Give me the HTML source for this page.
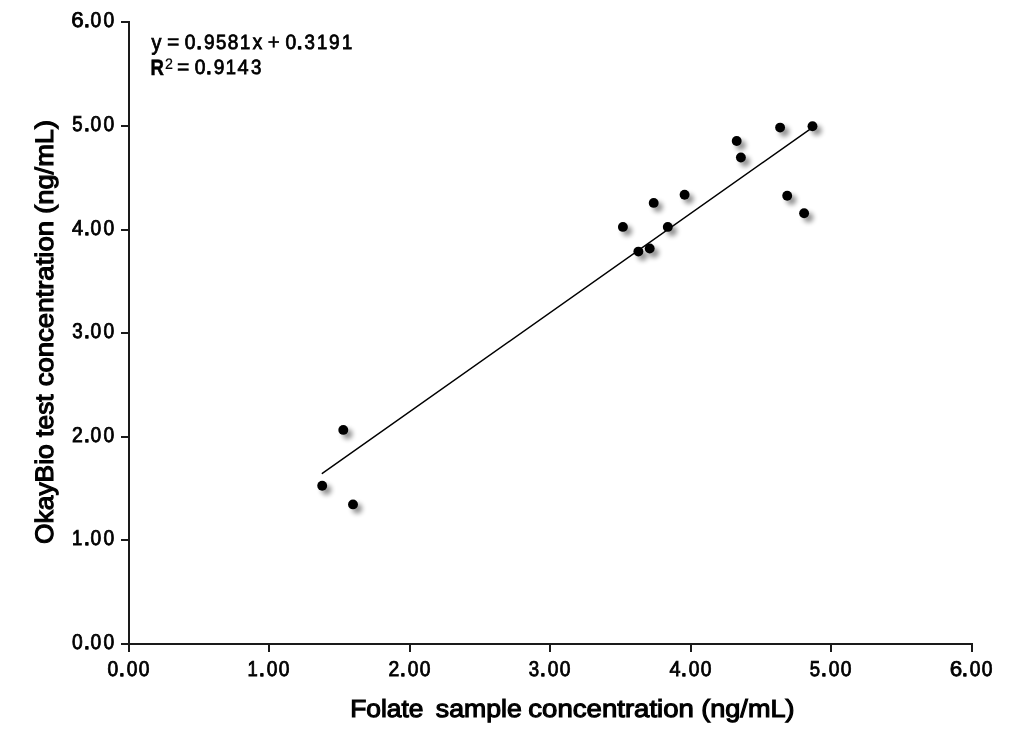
<!DOCTYPE html>
<html><head><meta charset="utf-8"><title>chart</title>
<style>
html,body{margin:0;padding:0;background:#fff;}
body{width:1033px;height:735px;overflow:hidden;font-family:"Liberation Sans",sans-serif;}
svg{display:block;will-change:transform;}
text{font-family:"Liberation Sans",sans-serif;fill:#000;text-rendering:geometricPrecision;}
.n{font-size:21.4px;stroke:#000;stroke-width:0.85px;}
.ti{font-size:24.8px;stroke:#000;stroke-width:1.1px;stroke-linejoin:miter;}
</style></head><body>
<svg width="1033" height="735" viewBox="0 0 1033 735">
<defs><filter id="sh" x="-100%" y="-100%" width="300%" height="300%"><feGaussianBlur stdDeviation="2.45"/></filter></defs>
<rect width="1033" height="735" fill="#fff"/>

<g stroke="#1a1a1a" stroke-width="2" fill="none">
<path d="M129.0 21.0V652.0"/>
<path d="M121.0 644.0H973.0"/>
<path d="M121.0 540H129.0"/>
<path d="M269 644.0V652.0"/>
<path d="M121.0 437H129.0"/>
<path d="M410 644.0V652.0"/>
<path d="M121.0 333H129.0"/>
<path d="M550 644.0V652.0"/>
<path d="M121.0 230H129.0"/>
<path d="M691 644.0V652.0"/>
<path d="M121.0 126H129.0"/>
<path d="M831 644.0V652.0"/>
<path d="M121.0 22H129.0"/>
<path d="M972 644.0V652.0"/>
</g>
<text class="n" transform="translate(72.10 649.00) scale(0.900 1.000)">0</text>
<text class="n" transform="translate(83.78 649.00) scale(1.057 1.000)" style="font-size:21.4px;stroke:#000;stroke-width:1.3px;stroke-linejoin:round;">.</text>
<text class="n" transform="translate(90.50 649.00) scale(0.900 1.000)">0</text>
<text class="n" transform="translate(103.60 649.00) scale(0.900 1.000)">0</text>
<text class="n" transform="translate(107.60 676.00) scale(0.900 1.000)">0</text>
<text class="n" transform="translate(118.73 676.00) scale(1.057 1.000)" style="font-size:21.4px;stroke:#000;stroke-width:1.3px;stroke-linejoin:round;">.</text>
<text class="n" transform="translate(126.65 676.00) scale(0.900 1.000)">0</text>
<text class="n" transform="translate(138.65 676.00) scale(0.900 1.000)">0</text>
<text class="n" transform="translate(72.12 545.00) scale(0.860 1.000)">1</text>
<text class="n" transform="translate(83.78 545.00) scale(1.057 1.000)" style="font-size:21.4px;stroke:#000;stroke-width:1.3px;stroke-linejoin:round;">.</text>
<text class="n" transform="translate(90.50 545.00) scale(0.900 1.000)">0</text>
<text class="n" transform="translate(103.60 545.00) scale(0.900 1.000)">0</text>
<text class="n" transform="translate(247.62 676.00) scale(0.860 1.000)">1</text>
<text class="n" transform="translate(258.73 676.00) scale(1.057 1.000)" style="font-size:21.4px;stroke:#000;stroke-width:1.3px;stroke-linejoin:round;">.</text>
<text class="n" transform="translate(266.65 676.00) scale(0.900 1.000)">0</text>
<text class="n" transform="translate(278.65 676.00) scale(0.900 1.000)">0</text>
<text class="n" transform="translate(72.07 442.00) scale(0.905 1.000)">2</text>
<text class="n" transform="translate(83.78 442.00) scale(1.057 1.000)" style="font-size:21.4px;stroke:#000;stroke-width:1.3px;stroke-linejoin:round;">.</text>
<text class="n" transform="translate(90.50 442.00) scale(0.900 1.000)">0</text>
<text class="n" transform="translate(103.60 442.00) scale(0.900 1.000)">0</text>
<text class="n" transform="translate(388.57 676.00) scale(0.905 1.000)">2</text>
<text class="n" transform="translate(399.73 676.00) scale(1.057 1.000)" style="font-size:21.4px;stroke:#000;stroke-width:1.3px;stroke-linejoin:round;">.</text>
<text class="n" transform="translate(407.65 676.00) scale(0.900 1.000)">0</text>
<text class="n" transform="translate(419.65 676.00) scale(0.900 1.000)">0</text>
<text class="n" transform="translate(72.26 338.00) scale(0.873 1.000)">3</text>
<text class="n" transform="translate(83.78 338.00) scale(1.057 1.000)" style="font-size:21.4px;stroke:#000;stroke-width:1.3px;stroke-linejoin:round;">.</text>
<text class="n" transform="translate(90.50 338.00) scale(0.900 1.000)">0</text>
<text class="n" transform="translate(103.60 338.00) scale(0.900 1.000)">0</text>
<text class="n" transform="translate(528.76 676.00) scale(0.873 1.000)">3</text>
<text class="n" transform="translate(539.73 676.00) scale(1.057 1.000)" style="font-size:21.4px;stroke:#000;stroke-width:1.3px;stroke-linejoin:round;">.</text>
<text class="n" transform="translate(547.65 676.00) scale(0.900 1.000)">0</text>
<text class="n" transform="translate(559.65 676.00) scale(0.900 1.000)">0</text>
<text class="n" transform="translate(72.05 235.00) scale(0.928 1.000)">4</text>
<text class="n" transform="translate(83.78 235.00) scale(1.057 1.000)" style="font-size:21.4px;stroke:#000;stroke-width:1.3px;stroke-linejoin:round;">.</text>
<text class="n" transform="translate(90.50 235.00) scale(0.900 1.000)">0</text>
<text class="n" transform="translate(103.60 235.00) scale(0.900 1.000)">0</text>
<text class="n" transform="translate(669.55 676.00) scale(0.928 1.000)">4</text>
<text class="n" transform="translate(680.73 676.00) scale(1.057 1.000)" style="font-size:21.4px;stroke:#000;stroke-width:1.3px;stroke-linejoin:round;">.</text>
<text class="n" transform="translate(688.65 676.00) scale(0.900 1.000)">0</text>
<text class="n" transform="translate(700.65 676.00) scale(0.900 1.000)">0</text>
<text class="n" transform="translate(72.29 131.00) scale(0.868 1.000)">5</text>
<text class="n" transform="translate(83.78 131.00) scale(1.057 1.000)" style="font-size:21.4px;stroke:#000;stroke-width:1.3px;stroke-linejoin:round;">.</text>
<text class="n" transform="translate(90.50 131.00) scale(0.900 1.000)">0</text>
<text class="n" transform="translate(103.60 131.00) scale(0.900 1.000)">0</text>
<text class="n" transform="translate(809.79 676.00) scale(0.868 1.000)">5</text>
<text class="n" transform="translate(820.73 676.00) scale(1.057 1.000)" style="font-size:21.4px;stroke:#000;stroke-width:1.3px;stroke-linejoin:round;">.</text>
<text class="n" transform="translate(828.65 676.00) scale(0.900 1.000)">0</text>
<text class="n" transform="translate(840.65 676.00) scale(0.900 1.000)">0</text>
<text class="n" transform="translate(71.21 27.00) scale(1.048 1.000)">6</text>
<text class="n" transform="translate(83.78 27.00) scale(1.057 1.000)" style="font-size:21.4px;stroke:#000;stroke-width:1.3px;stroke-linejoin:round;">.</text>
<text class="n" transform="translate(90.50 27.00) scale(0.900 1.000)">0</text>
<text class="n" transform="translate(103.60 27.00) scale(0.900 1.000)">0</text>
<text class="n" transform="translate(949.71 676.00) scale(1.048 1.000)">6</text>
<text class="n" transform="translate(961.73 676.00) scale(1.057 1.000)" style="font-size:21.4px;stroke:#000;stroke-width:1.3px;stroke-linejoin:round;">.</text>
<text class="n" transform="translate(969.65 676.00) scale(0.900 1.000)">0</text>
<text class="n" transform="translate(981.65 676.00) scale(0.900 1.000)">0</text>
<path d="M322.3 473.4L812.3 127.6" stroke="#000" stroke-width="1.45" stroke-linecap="round" fill="none"/>
<g filter="url(#sh)" fill="#000" opacity="0.44">
<circle cx="627.1" cy="231.1" r="5"/>
<circle cx="657.9" cy="207.1" r="5"/>
<circle cx="688.8" cy="199.0" r="5"/>
<circle cx="672.0" cy="231.1" r="5"/>
<circle cx="653.9" cy="252.7" r="5"/>
<circle cx="642.6" cy="255.8" r="5"/>
<circle cx="740.9" cy="145.2" r="5"/>
<circle cx="745.1" cy="161.7" r="5"/>
<circle cx="784.3" cy="131.8" r="5"/>
<circle cx="816.7" cy="130.5" r="5"/>
<circle cx="791.4" cy="200.0" r="5"/>
<circle cx="808.4" cy="217.5" r="5"/>
<circle cx="347.5" cy="434.1" r="5"/>
<circle cx="326.4" cy="489.9" r="5"/>
<circle cx="357.2" cy="508.6" r="5"/>
</g>
<g fill="#000">
<circle cx="622.9" cy="226.9" r="4.95"/>
<circle cx="653.7" cy="202.9" r="4.95"/>
<circle cx="684.6" cy="194.8" r="4.95"/>
<circle cx="667.8" cy="226.9" r="4.95"/>
<circle cx="649.7" cy="248.5" r="4.95"/>
<circle cx="638.4" cy="251.6" r="4.95"/>
<circle cx="736.7" cy="141.0" r="4.95"/>
<circle cx="740.9" cy="157.5" r="4.95"/>
<circle cx="780.1" cy="127.6" r="4.95"/>
<circle cx="812.5" cy="126.3" r="4.95"/>
<circle cx="787.2" cy="195.8" r="4.95"/>
<circle cx="804.1" cy="213.3" r="4.95"/>
<circle cx="343.3" cy="429.9" r="4.95"/>
<circle cx="322.2" cy="485.7" r="4.95"/>
<circle cx="353.0" cy="504.4" r="4.95"/>
</g>
<text class="n" transform="translate(151.62 50.00) scale(0.886 1.000)" style="font-size:22.3px;stroke:#000;stroke-width:0.85px;">y</text>
<text class="n" transform="translate(167.01 49.00) scale(0.991 1.000)" style="font-size:21.4px;stroke:#000;stroke-width:0.5px;">=</text>
<text class="n" transform="translate(184.65 49.00) scale(0.900 0.965)">0</text>
<text class="n" transform="translate(195.88 49.00) scale(1.057 1.000)" style="font-size:21.4px;stroke:#000;stroke-width:1.3px;stroke-linejoin:round;">.</text>
<text class="n" transform="translate(203.95 49.00) scale(0.893 0.965)">9</text>
<text class="n" transform="translate(215.99 49.00) scale(0.868 0.965)">5</text>
<text class="n" transform="translate(227.85 49.00) scale(0.891 0.965)">8</text>
<text class="n" transform="translate(239.93 49.00) scale(0.860 0.965)">1</text>
<text class="n" transform="translate(252.69 49.00) scale(0.877 1.000)">x</text>
<text class="n" transform="translate(267.83 49.00) scale(0.955 1.000)" style="font-size:21.4px;stroke:#000;stroke-width:0.5px;">+</text>
<text class="n" transform="translate(285.55 49.00) scale(0.900 0.965)">0</text>
<text class="n" transform="translate(296.43 49.00) scale(1.057 1.000)" style="font-size:21.4px;stroke:#000;stroke-width:1.3px;stroke-linejoin:round;">.</text>
<text class="n" transform="translate(304.46 49.00) scale(0.873 0.965)">3</text>
<text class="n" transform="translate(316.93 49.00) scale(0.860 0.965)">1</text>
<text class="n" transform="translate(329.05 49.00) scale(0.893 0.965)">9</text>
<text class="n" transform="translate(342.12 49.00) scale(0.860 0.965)">1</text>
<text class="n" transform="translate(150.41 75.00) scale(0.834 1.000)" style="font-size:22.3px;font-weight:bold;stroke:#000;stroke-width:0.5px;">R</text>
<text class="n" transform="translate(164.99 69.00) scale(0.943 1.000)" style="font-size:15.2px;stroke:#000;stroke-width:0.2px;">2</text>
<text class="n" transform="translate(177.01 74.00) scale(0.991 1.000)" style="font-size:21.4px;stroke:#000;stroke-width:0.5px;">=</text>
<text class="n" transform="translate(194.67 74.00) scale(0.900 0.965)">0</text>
<text class="n" transform="translate(205.63 74.00) scale(1.057 1.000)" style="font-size:21.4px;stroke:#000;stroke-width:1.3px;stroke-linejoin:round;">.</text>
<text class="n" transform="translate(213.70 74.00) scale(0.893 0.965)">9</text>
<text class="n" transform="translate(225.82 74.00) scale(0.860 0.965)">1</text>
<text class="n" transform="translate(237.60 74.00) scale(0.928 0.965)">4</text>
<text class="n" transform="translate(250.91 74.00) scale(0.873 0.965)">3</text>
<text class="ti" transform="translate(350.20 717) scale(1.0637 1)">Folate</text>
<text class="ti" transform="translate(435.80 717) scale(1.0751 1)">sample</text>
<text class="ti" transform="translate(528.34 717) scale(1.1117 1)">concentration</text>
<text class="ti" transform="translate(701.21 717) scale(1.0922 1)">(ng/mL)</text>
<text class="ti" transform="translate(53 544.00) rotate(-90) scale(1.0638 1.02)">OkayBio</text>
<text class="ti" transform="translate(53 436.93) rotate(-90) scale(1.0667 1.02)">test</text>
<text class="ti" transform="translate(53 386.36) rotate(-90) scale(1.1110 1.02)">concentration</text>
<text class="ti" transform="translate(53 213.85) rotate(-90) scale(1.1000 1.02)">(ng/mL)</text>
</svg></body></html>
